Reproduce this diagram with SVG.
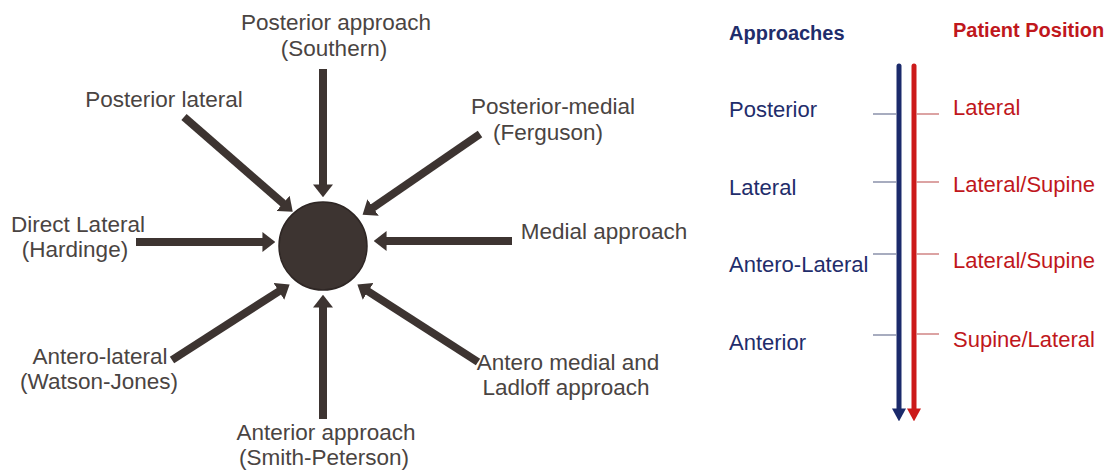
<svg xmlns="http://www.w3.org/2000/svg" width="1110" height="470" viewBox="0 0 1110 470">
<style>
.lbl{font-family:"Liberation Sans",Arial,sans-serif;font-size:22.5px;fill:#4a4442;text-anchor:middle}
.arr{stroke:#3d3431;stroke-width:8;fill:none;marker-end:url(#ah)}
.blue{font-family:"Liberation Sans",Arial,sans-serif;font-size:22px;fill:#1f2d6b}
.red{font-family:"Liberation Sans",Arial,sans-serif;font-size:22px;fill:#c0171c}
.hdr{font-weight:bold;font-size:20px}
.tl{stroke:#8a90aa;stroke-width:1.5}
.tr{stroke:#d08585;stroke-width:1.5}
</style>
<defs>
<marker id="ah" viewBox="0 0 10 10" refX="2" refY="5" markerWidth="1.6" markerHeight="2.5" orient="auto" preserveAspectRatio="none">
<path d="M0,0 L10,5 L0,10 z" fill="#3d3431"/>
</marker>
<marker id="hb" viewBox="0 0 10 10" refX="2" refY="5" markerWidth="2.6" markerHeight="2.8" orient="auto" preserveAspectRatio="none">
<path d="M0,0 L10,5 L0,10 z" fill="#1b2a6b"/>
</marker>
<marker id="hr" viewBox="0 0 10 10" refX="2" refY="5" markerWidth="2.6" markerHeight="2.8" orient="auto" preserveAspectRatio="none">
<path d="M0,0 L10,5 L0,10 z" fill="#cc1a1a"/>
</marker>
</defs>
<rect width="1110" height="470" fill="#ffffff"/>

<g id="hip">
<circle cx="323" cy="246" r="44" fill="#3d3431" stroke="#2e2624" stroke-width="1.5"/>
</g>

<g id="connectors">
<line class="arr" x1="323" y1="69" x2="323" y2="187"/>
<line class="arr" x1="184" y1="117" x2="285" y2="205"/>
<line class="arr" x1="480" y1="134" x2="371" y2="209"/>
<line class="arr" x1="136" y1="242" x2="265" y2="242"/>
<line class="arr" x1="512" y1="241" x2="384" y2="241"/>
<line class="arr" x1="172" y1="360" x2="281" y2="290"/>
<line class="arr" x1="478" y1="362" x2="366" y2="290"/>
<line class="arr" x1="323" y1="419" x2="323" y2="305"/>

<line x1="899" y1="66" x2="899" y2="411" stroke="#1b2a6b" stroke-width="5" stroke-linecap="round" marker-end="url(#hb)"/>
<line x1="914" y1="66" x2="914" y2="411" stroke="#cc1a1a" stroke-width="5" stroke-linecap="round" marker-end="url(#hr)"/>
<line class="tl" x1="873" y1="114" x2="897" y2="114"/>
<line class="tl" x1="873" y1="182" x2="897" y2="182"/>
<line class="tl" x1="873" y1="254" x2="897" y2="254"/>
<line class="tl" x1="873" y1="335" x2="897" y2="335"/>
<line class="tr" x1="916" y1="114" x2="939" y2="114"/>
<line class="tr" x1="916" y1="182" x2="939" y2="182"/>
<line class="tr" x1="916" y1="254" x2="939" y2="254"/>
<line class="tr" x1="916" y1="334" x2="939" y2="334"/>
</g>

<g id="posterior-approach"><text class="lbl" x="336" y="30">Posterior approach</text><text class="lbl" x="334" y="56">(Southern)</text></g>
<g id="posterior-lateral"><text class="lbl" x="164" y="107">Posterior lateral</text></g>
<g id="posterior-medial"><text class="lbl" x="553" y="114">Posterior-medial</text><text class="lbl" x="548" y="140">(Ferguson)</text></g>
<g id="direct-lateral"><text class="lbl" x="78" y="232">Direct Lateral</text><text class="lbl" x="75" y="257">(Hardinge)</text></g>
<g id="medial-approach"><text class="lbl" x="604" y="239">Medial approach</text></g>
<g id="antero-lateral"><text class="lbl" x="100" y="364">Antero-lateral</text><text class="lbl" x="99" y="389">(Watson-Jones)</text></g>
<g id="antero-medial"><text class="lbl" x="568" y="370">Antero medial and</text><text class="lbl" x="566" y="395">Ladloff approach</text></g>
<g id="anterior-approach"><text class="lbl" x="326" y="440">Anterior approach</text><text class="lbl" x="324" y="465">(Smith-Peterson)</text></g>

<g id="approaches">
<text class="blue hdr" x="729" y="40">Approaches</text>
<text class="blue" x="729" y="117">Posterior</text>
<text class="blue" x="729" y="195">Lateral</text>
<text class="blue" x="729" y="272">Antero-Lateral</text>
<text class="blue" x="729" y="350">Anterior</text>
</g>
<g id="patient-position">
<text class="red hdr" x="953" y="37">Patient Position</text>
<text class="red" x="953" y="115">Lateral</text>
<text class="red" x="953" y="192">Lateral/Supine</text>
<text class="red" x="953" y="268">Lateral/Supine</text>
<text class="red" x="953" y="347">Supine/Lateral</text>
</g>
</svg>
